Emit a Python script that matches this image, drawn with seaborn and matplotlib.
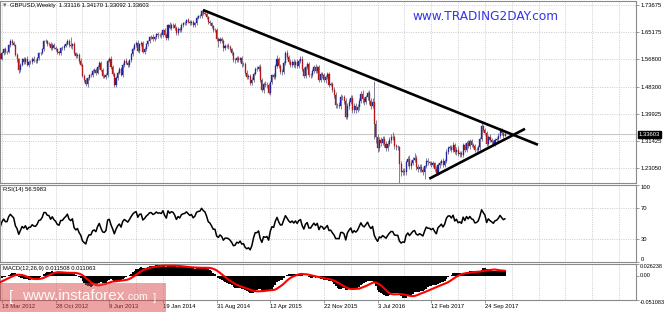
import numpy as np
import pandas as pd
import matplotlib
matplotlib.use("Agg")
import matplotlib.pyplot as plt
import matplotlib.transforms as mtrans
from matplotlib.patches import Rectangle
import seaborn as sns

# ---------------- data (weekly GBPUSD, read/estimated from the picture) ----------------
first_week = "2012-03-11"

# closes before the visible window, only used to warm up the indicators
warmup_close = [1.6460, 1.6420, 1.6220, 1.5820, 1.5750, 1.5520, 1.5590, 1.5540, 1.5770, 1.5820,
                1.6080, 1.6030, 1.6080, 1.5780, 1.5460, 1.5690, 1.5600, 1.5480, 1.5650, 1.5540,
                1.5380, 1.5330, 1.5500, 1.5710, 1.5830, 1.5800, 1.5780, 1.5880, 1.5830]

close_2012 = [1.5690, 1.5880, 1.6000, 1.5900, 1.5900, 1.6120, 1.6240, 1.6180, 1.6120, 1.5820,
              1.5680, 1.5360, 1.5510, 1.5680, 1.5600, 1.5700, 1.5500, 1.5590, 1.5600, 1.5700,
              1.5640, 1.5630, 1.5710, 1.5860, 1.5880, 1.5990, 1.6230, 1.6230, 1.6150, 1.6140,
              1.6030, 1.6130, 1.6040, 1.5990, 1.5890, 1.5860, 1.6020, 1.6020, 1.6100, 1.6160,
              1.6250, 1.6120, 1.6080]
close_2013 = [1.6140, 1.5860, 1.5770, 1.5810, 1.5640, 1.5510, 1.5170, 1.5040, 1.4920, 1.5100,
              1.5200, 1.5190, 1.5320, 1.5350, 1.5270, 1.5440, 1.5560, 1.5360, 1.5170, 1.5140,
              1.5200, 1.5640, 1.5680, 1.5430, 1.5210, 1.4890, 1.5100, 1.5270, 1.5370, 1.5190,
              1.5510, 1.5640, 1.5570, 1.5500, 1.5650, 1.5830, 1.6010, 1.6130, 1.6190, 1.5950,
              1.6150, 1.6170, 1.5900, 1.5990, 1.6140, 1.6230, 1.6370, 1.6380, 1.6310, 1.6360,
              1.6460, 1.6420]
close_2014 = [1.6440, 1.6420, 1.6570, 1.6430, 1.6340, 1.6740, 1.6660, 1.6750, 1.6730, 1.6640,
              1.6490, 1.6630, 1.6580, 1.6740, 1.6790, 1.6810, 1.6890, 1.6840, 1.6790, 1.6830,
              1.6740, 1.6800, 1.6970, 1.7010, 1.7020, 1.7160, 1.7110, 1.7080, 1.6980, 1.6830,
              1.6790, 1.6700, 1.6590, 1.6590, 1.6320, 1.6250, 1.6310, 1.6240, 1.6040, 1.6090,
              1.6090, 1.6070, 1.5990, 1.5870, 1.5650, 1.5660, 1.5720, 1.5670, 1.5710, 1.5530,
              1.5540, 1.5270]
close_2015 = [1.5140, 1.5160, 1.4960, 1.5050, 1.5240, 1.5390, 1.5390, 1.5440, 1.5030, 1.4730,
              1.4920, 1.4870, 1.4900, 1.4630, 1.4970, 1.5180, 1.5140, 1.5460, 1.5700, 1.5470,
              1.5280, 1.5290, 1.5570, 1.5880, 1.5750, 1.5600, 1.5510, 1.5600, 1.5490, 1.5610,
              1.5480, 1.5640, 1.5700, 1.5390, 1.5170, 1.5430, 1.5530, 1.5190, 1.5180, 1.5320,
              1.5450, 1.5320, 1.5430, 1.5040, 1.5230, 1.5190, 1.5030, 1.5120, 1.5220, 1.4900,
              1.4920, 1.4740]
close_2016 = [1.4580, 1.4260, 1.4260, 1.4250, 1.4500, 1.4500, 1.4400, 1.3910, 1.4230, 1.4370,
              1.4480, 1.4120, 1.4230, 1.4120, 1.4210, 1.4400, 1.4620, 1.4440, 1.4370, 1.4500,
              1.4630, 1.4400, 1.4250, 1.4360, 1.3680, 1.3280, 1.2950, 1.3190, 1.3100, 1.3220,
              1.3070, 1.2930, 1.3070, 1.3190, 1.3280, 1.3270, 1.3000, 1.2970, 1.2970, 1.2430,
              1.2180, 1.2230, 1.2190, 1.2490, 1.2600, 1.2380, 1.2480, 1.2580, 1.2620, 1.2360,
              1.2280, 1.2340]
close_2017 = [1.2270, 1.2180, 1.2370, 1.2550, 1.2490, 1.2480, 1.2410, 1.2460, 1.2300, 1.2170,
              1.2400, 1.2470, 1.2550, 1.2420, 1.2540, 1.2820, 1.2950, 1.2960, 1.2880, 1.3030,
              1.2800, 1.2890, 1.2740, 1.2780, 1.2720, 1.3020, 1.2880, 1.3100, 1.3000, 1.3140,
              1.3040, 1.3010, 1.2870, 1.2890, 1.2960, 1.3200, 1.3610, 1.3500, 1.3400, 1.3060,
              1.3280, 1.3190, 1.3130, 1.3060, 1.3190, 1.3220, 1.3320, 1.3480, 1.3390, 1.33116,
              1.33603]

# wick lengths above the body top / below the body bottom, in pips
wick_up_2012 = [60, 50, 40, 70, 50, 30, 60, 60, 70, 40,
                60, 50, 60, 50, 80, 40, 90, 60, 70, 50,
                80, 60, 50, 30, 40, 50, 40, 80, 60, 50,
                70, 40, 60, 60, 50, 40, 30, 60, 40, 50,
                50, 60, 260]
wick_dn_2012 = [60, 40, 60, 50, 60, 40, 50, 60, 40, 50,
                70, 91, 60, 40, 60, 70, 40, 60, 50, 60,
                50, 50, 60, 40, 60, 50, 50, 40, 60, 50,
                60, 70, 50, 60, 50, 60, 40, 60, 50, 40,
                50, 70, 60]
wick_up_2013 = [40, 70, 60, 60, 50, 70, 60, 50, 60, 40,
                40, 60, 50, 70, 60, 50, 60, 80, 50, 60,
                50, 40, 70, 90, 60, 80, 60, 50, 70, 80,
                40, 50, 70, 60, 50, 40, 50, 60, 60, 90,
                40, 60, 80, 60, 40, 50, 40, 50, 70, 50,
                40, 60]
wick_dn_2013 = [70, 50, 60, 50, 60, 50, 40, 60, 70, 89,
                60, 50, 60, 50, 70, 60, 50, 40, 60, 50,
                60, 60, 50, 40, 50, 60, 77, 60, 50, 40,
                70, 60, 50, 60, 60, 50, 40, 50, 60, 50,
                70, 60, 40, 50, 60, 50, 60, 50, 60, 50,
                60, 70]
wick_up_2014 = [60, 80, 40, 70, 60, 40, 80, 50, 60, 70,
                60, 40, 60, 50, 40, 60, 40, 70, 60, 50,
                60, 40, 40, 50, 50, 40, 60, 80, 60, 50,
                60, 50, 40, 50, 50, 60, 60, 70, 60, 50,
                50, 80, 50, 40, 60, 50, 60, 70, 50, 60,
                50, 60]
wick_dn_2014 = [60, 70, 60, 50, 70, 60, 50, 60, 70, 60,
                50, 60, 60, 50, 70, 60, 60, 50, 60, 50,
                60, 70, 60, 50, 60, 50, 60, 40, 60, 50,
                60, 60, 60, 60, 70, 200, 70, 60, 90, 80,
                60, 70, 60, 70, 60, 80, 60, 70, 60, 80,
                60, 70]
wick_up_2015 = [90, 70, 60, 80, 40, 60, 70, 50, 80, 70,
                70, 80, 70, 60, 40, 50, 90, 80, 110, 60,
                70, 80, 50, 50, 80, 70, 80, 70, 90, 60,
                90, 60, 80, 70, 60, 40, 70, 80, 70, 50,
                60, 90, 50, 80, 60, 50, 70, 60, 70, 80,
                60, 50]
wick_dn_2015 = [80, 60, 90, 60, 70, 50, 80, 60, 50, 70,
                90, 60, 80, 30, 65, 60, 70, 60, 50, 60,
                70, 80, 70, 60, 50, 60, 80, 70, 60, 70,
                60, 70, 60, 80, 70, 80, 60, 70, 80, 60,
                70, 60, 70, 60, 70, 80, 60, 70, 60, 70,
                60, 70]
wick_up_2016 = [80, 90, 70, 100, 120, 90, 80, 70, 110, 90,
                100, 80, 90, 100, 90, 80, 90, 100, 80, 90,
                80, 100, 90, 120, 658, 120, 90, 80, 100, 90,
                80, 70, 90, 80, 80, 165, 80, 70, 60, 20,
                90, 100, 90, 80, 100, 120, 90, 80, 155, 100,
                80, 90]
wick_dn_2016 = [90, 100, 80, 90, 100, 90, 100, 80, 75, 90,
                80, 100, 90, 100, 80, 90, 80, 100, 90, 80,
                90, 100, 110, 80, 451, 190, 152, 100, 90, 80,
                110, 90, 100, 80, 90, 100, 90, 80, 100, 589,
                120, 90, 100, 80, 100, 90, 100, 80, 90, 100,
                80, 90]
wick_up_2017 = [90, 80, 45, 70, 80, 60, 70, 60, 50, 70,
                60, 70, 60, 70, 60, 80, 60, 70, 60, 80,
                60, 70, 120, 60, 70, 60, 70, 60, 80, 60,
                70, 50, 60, 70, 60, 70, 90, 47, 60, 70,
                60, 80, 70, 60, 70, 60, 80, 70, 60, 50,
                57]
wick_dn_2017 = [90, 70, 194, 60, 70, 60, 70, 60, 80, 70,
                60, 70, 60, 80, 60, 70, 60, 70, 60, 70,
                60, 80, 60, 70, 60, 70, 60, 70, 60, 80,
                60, 70, 60, 70, 60, 70, 60, 80, 60, 70,
                60, 70, 60, 70, 60, 70, 60, 70, 60, 70,
                2]

# trend lines drawn on the chart (bar index, price)
resistance_idx = [120.9, 320.6]
resistance_price = [1.7204, 1.3036]
support_idx = [255.8, 312.9]
support_price = [1.1987, 1.3530]

price_ticks = [1.73675, 1.65175, 1.56800, 1.48300, 1.39925, 1.31425, 1.23050]
price_tick_labels = ["1.73675", "1.65175", "1.56800", "1.48300", "1.39925", "1.31425", "1.23050"]
rsi_ticks = [100, 70, 30, 0]
macd_ticks = [0.026238, 0.0, -0.051083]
macd_tick_labels = ["0.026238", "0.00", "-0.051083"]

title_text = "GBPUSD,Weekly  1.33116 1.34170 1.33092 1.33603"
rsi_text = "RSI(14) 56.5983"
macd_text = "MACD(12,26,9) 0.011508 0.011063"
last_price_text = "1.33603"

# ---------------- series ----------------
close = np.array(close_2012 + close_2013 + close_2014 + close_2015 + close_2016 + close_2017)
wup = np.array(wick_up_2012 + wick_up_2013 + wick_up_2014 + wick_up_2015 + wick_up_2016 + wick_up_2017) / 1e4
wdn = np.array(wick_dn_2012 + wick_dn_2013 + wick_dn_2014 + wick_dn_2015 + wick_dn_2016 + wick_dn_2017) / 1e4
n = len(close)
idx = np.arange(n)
dates = pd.date_range(first_week, periods=n, freq="W-SUN")
open_ = np.concatenate([[warmup_close[-1]], close[:-1]])
body_lo = np.minimum(open_, close)
body_hi = np.maximum(open_, close)
high = body_hi + wup
low = body_lo - wdn

full = pd.Series(warmup_close + list(close))
delta = full.diff().fillna(0)
gain = delta.clip(lower=0)
loss = -delta.clip(upper=0)
ag = gain.ewm(alpha=1 / 14, adjust=False).mean()
al = loss.ewm(alpha=1 / 14, adjust=False).mean()
rsi = (100 - 100 / (1 + ag / al)).to_numpy()[-n:]
ema12 = full.ewm(span=12, adjust=False).mean()
ema26 = full.ewm(span=26, adjust=False).mean()
macd_s = ema12 - ema26
signal_s = macd_s.rolling(9, min_periods=1).mean()
macd = macd_s.to_numpy()[-n:]
signal = signal_s.to_numpy()[-n:]

df = pd.DataFrame({"i": idx, "rsi": rsi, "macd": macd, "signal": signal})

# ---------------- figure ----------------
sns.set_theme(style="white")
plt.rcParams["font.family"] = ["Liberation Sans", "DejaVu Sans"]

W, H = 665, 312
fig = plt.figure(figsize=(W / 100, H / 100), dpi=100)
fig.patch.set_facecolor("white")


def rect(top, bottom, left=0.0, right=636.0):
    return [left / W, 1 - bottom / H, (right - left) / W, (bottom - top) / H]


ax1 = fig.add_axes(rect(1, 183.3))
ax2 = fig.add_axes(rect(185, 262.2))
ax3 = fig.add_axes(rect(263.6, 300))

BAR_PX = 1.677
X0_PX = 0.3
xlim = ((0 - X0_PX) / BAR_PX, (636 - X0_PX) / BAR_PX)
grid_idx = list(range(1, 380, 16))
label_idx = list(range(1, n, 32))
FS = 4.25
FS_MACD = 3.95
grid_kw = dict(color="#c4c4c4", lw=0.6, ls=(0, (1.2, 1.6)), zorder=0)
spine_col = "#8a8a8a"

for ax in (ax1, ax2, ax3):
    ax.set_facecolor("white")
    ax.set_xlim(*xlim)
    for s in ax.spines.values():
        s.set_color(spine_col)
        s.set_linewidth(0.8)
    for g in grid_idx:
        ax.axvline(g, **grid_kw)
    ax.yaxis.tick_right()
    ax.tick_params(axis="y", which="both", right=True, left=False, length=1.8, width=0.6,
                   color=spine_col, labelsize=FS, labelcolor="black", pad=1.3)
    ax.tick_params(axis="x", bottom=False, labelbottom=False)

# main price panel
ax1.set_ylim(1.1845, 1.7482)
for p in price_ticks:
    ax1.axhline(p, **grid_kw)
ax1.axhline(close[-1], color="#c8c8c8", lw=0.8, zorder=1)
ax1.set_yticks(price_ticks)
ax1.set_yticklabels(price_tick_labels)

is_up = close >= open_
body_col = np.where(is_up, "#2424a0", "#b01818")
ax1.vlines(idx, low, high, color="#60607e", lw=0.55, zorder=2)
ax1.bar(idx, body_hi - body_lo, bottom=body_lo, width=0.62, color=body_col,
        edgecolor=body_col, linewidth=0.25, zorder=3)

ax1.plot(resistance_idx, resistance_price, color="black", lw=1.9, zorder=4,
         solid_capstyle="butt")
ax1.plot(support_idx, support_price, color="black", lw=1.9, zorder=4,
         solid_capstyle="butt")

trans1 = mtrans.blended_transform_factory(ax1.transAxes, ax1.transData)
ax1.text(1.0045, close[-1], last_price_text, transform=trans1, ha="left", va="center",
         fontsize=FS, color="white", clip_on=False, zorder=6,
         bbox=dict(boxstyle="square,pad=0.2", fc="black", ec="black"))

# RSI panel
ax2.set_ylim(0, 100)
for lv in (70, 30):
    ax2.axhline(lv, **grid_kw)
sns.lineplot(data=df, x="i", y="rsi", ax=ax2, color="black", linewidth=1.1, legend=False)
ax2.set_yticks(rsi_ticks)
ax2.set_yticklabels([str(t) for t in rsi_ticks])
for lbl, t in zip(ax2.get_yticklabels(), rsi_ticks):
    if t == 100:
        lbl.set_va("top")
    elif t == 0:
        lbl.set_va("bottom")

# MACD panel
ax3.set_ylim(macd_ticks[-1], macd_ticks[0])
ax3.bar(df["i"], df["macd"], width=1.0, color="black", linewidth=0, zorder=2)
sns.lineplot(data=df, x="i", y="signal", ax=ax3, color="#ff0000", linewidth=1.5,
             legend=False, zorder=3)
ax3.set_yticks(macd_ticks)
ax3.set_yticklabels(macd_tick_labels)
ax3.tick_params(axis="y", labelsize=FS_MACD, pad=1.0)
for lbl, t in zip(ax3.get_yticklabels(), macd_ticks):
    lbl.set_va("top")
ax3.get_yticklabels()[1].set_va("center")

ax3.set_xticks(label_idx)
ax3.set_xticklabels([f"{d.day} {d.strftime('%b %Y')}" for d in dates[label_idx]])
ax3.tick_params(axis="x", bottom=True, labelbottom=True, length=1.8, width=0.6,
                color=spine_col, labelsize=FS, labelcolor="black", pad=0.8)
for lbl in ax3.get_xticklabels():
    lbl.set_ha("left")

for ax in (ax1, ax2, ax3):
    ax.set_xlabel("")
    ax.set_ylabel("")
    ax.set_xlim(*xlim)


def fx(x):
    return x / W


def fy(y):
    return 1 - y / H


# panel captions
fig.text(fx(3), fy(6), "\u25be", fontsize=5, color="#707070", va="center", ha="left")
fig.text(fx(10), fy(6), title_text, fontsize=FS, color="black", va="center", ha="left")
fig.text(fx(3), fy(189.5), rsi_text, fontsize=FS, color="black", va="center", ha="left")
fig.text(fx(3), fy(268.5), macd_text, fontsize=FS, color="black", va="center", ha="left")

# site watermark (top right)
fig.text(fx(412), fy(16.5), "www.TRADING2DAY.com", fontsize=8.7, color="#3434e6",
         family="DejaVu Sans", va="center", ha="left")

# instaforex watermark (bottom left)
fig.add_artist(Rectangle((0, 0), 166 / W, 29 / H, transform=fig.transFigure,
                         facecolor="#d84848", edgecolor="none", alpha=0.5, zorder=20))
wm = dict(color="white", alpha=0.92, va="baseline", ha="left", zorder=21)
fig.text(fx(9), fy(301), "[", fontsize=11, **wm)
fig.text(fx(22), fy(300.5), "www.instaforex", fontsize=11, **wm)
fig.text(fx(125), fy(300.5), ".com", fontsize=7.6, **wm)
fig.text(fx(153), fy(301), "]", fontsize=8, **wm)

fig.savefig("out.png", dpi=100, facecolor="white")
